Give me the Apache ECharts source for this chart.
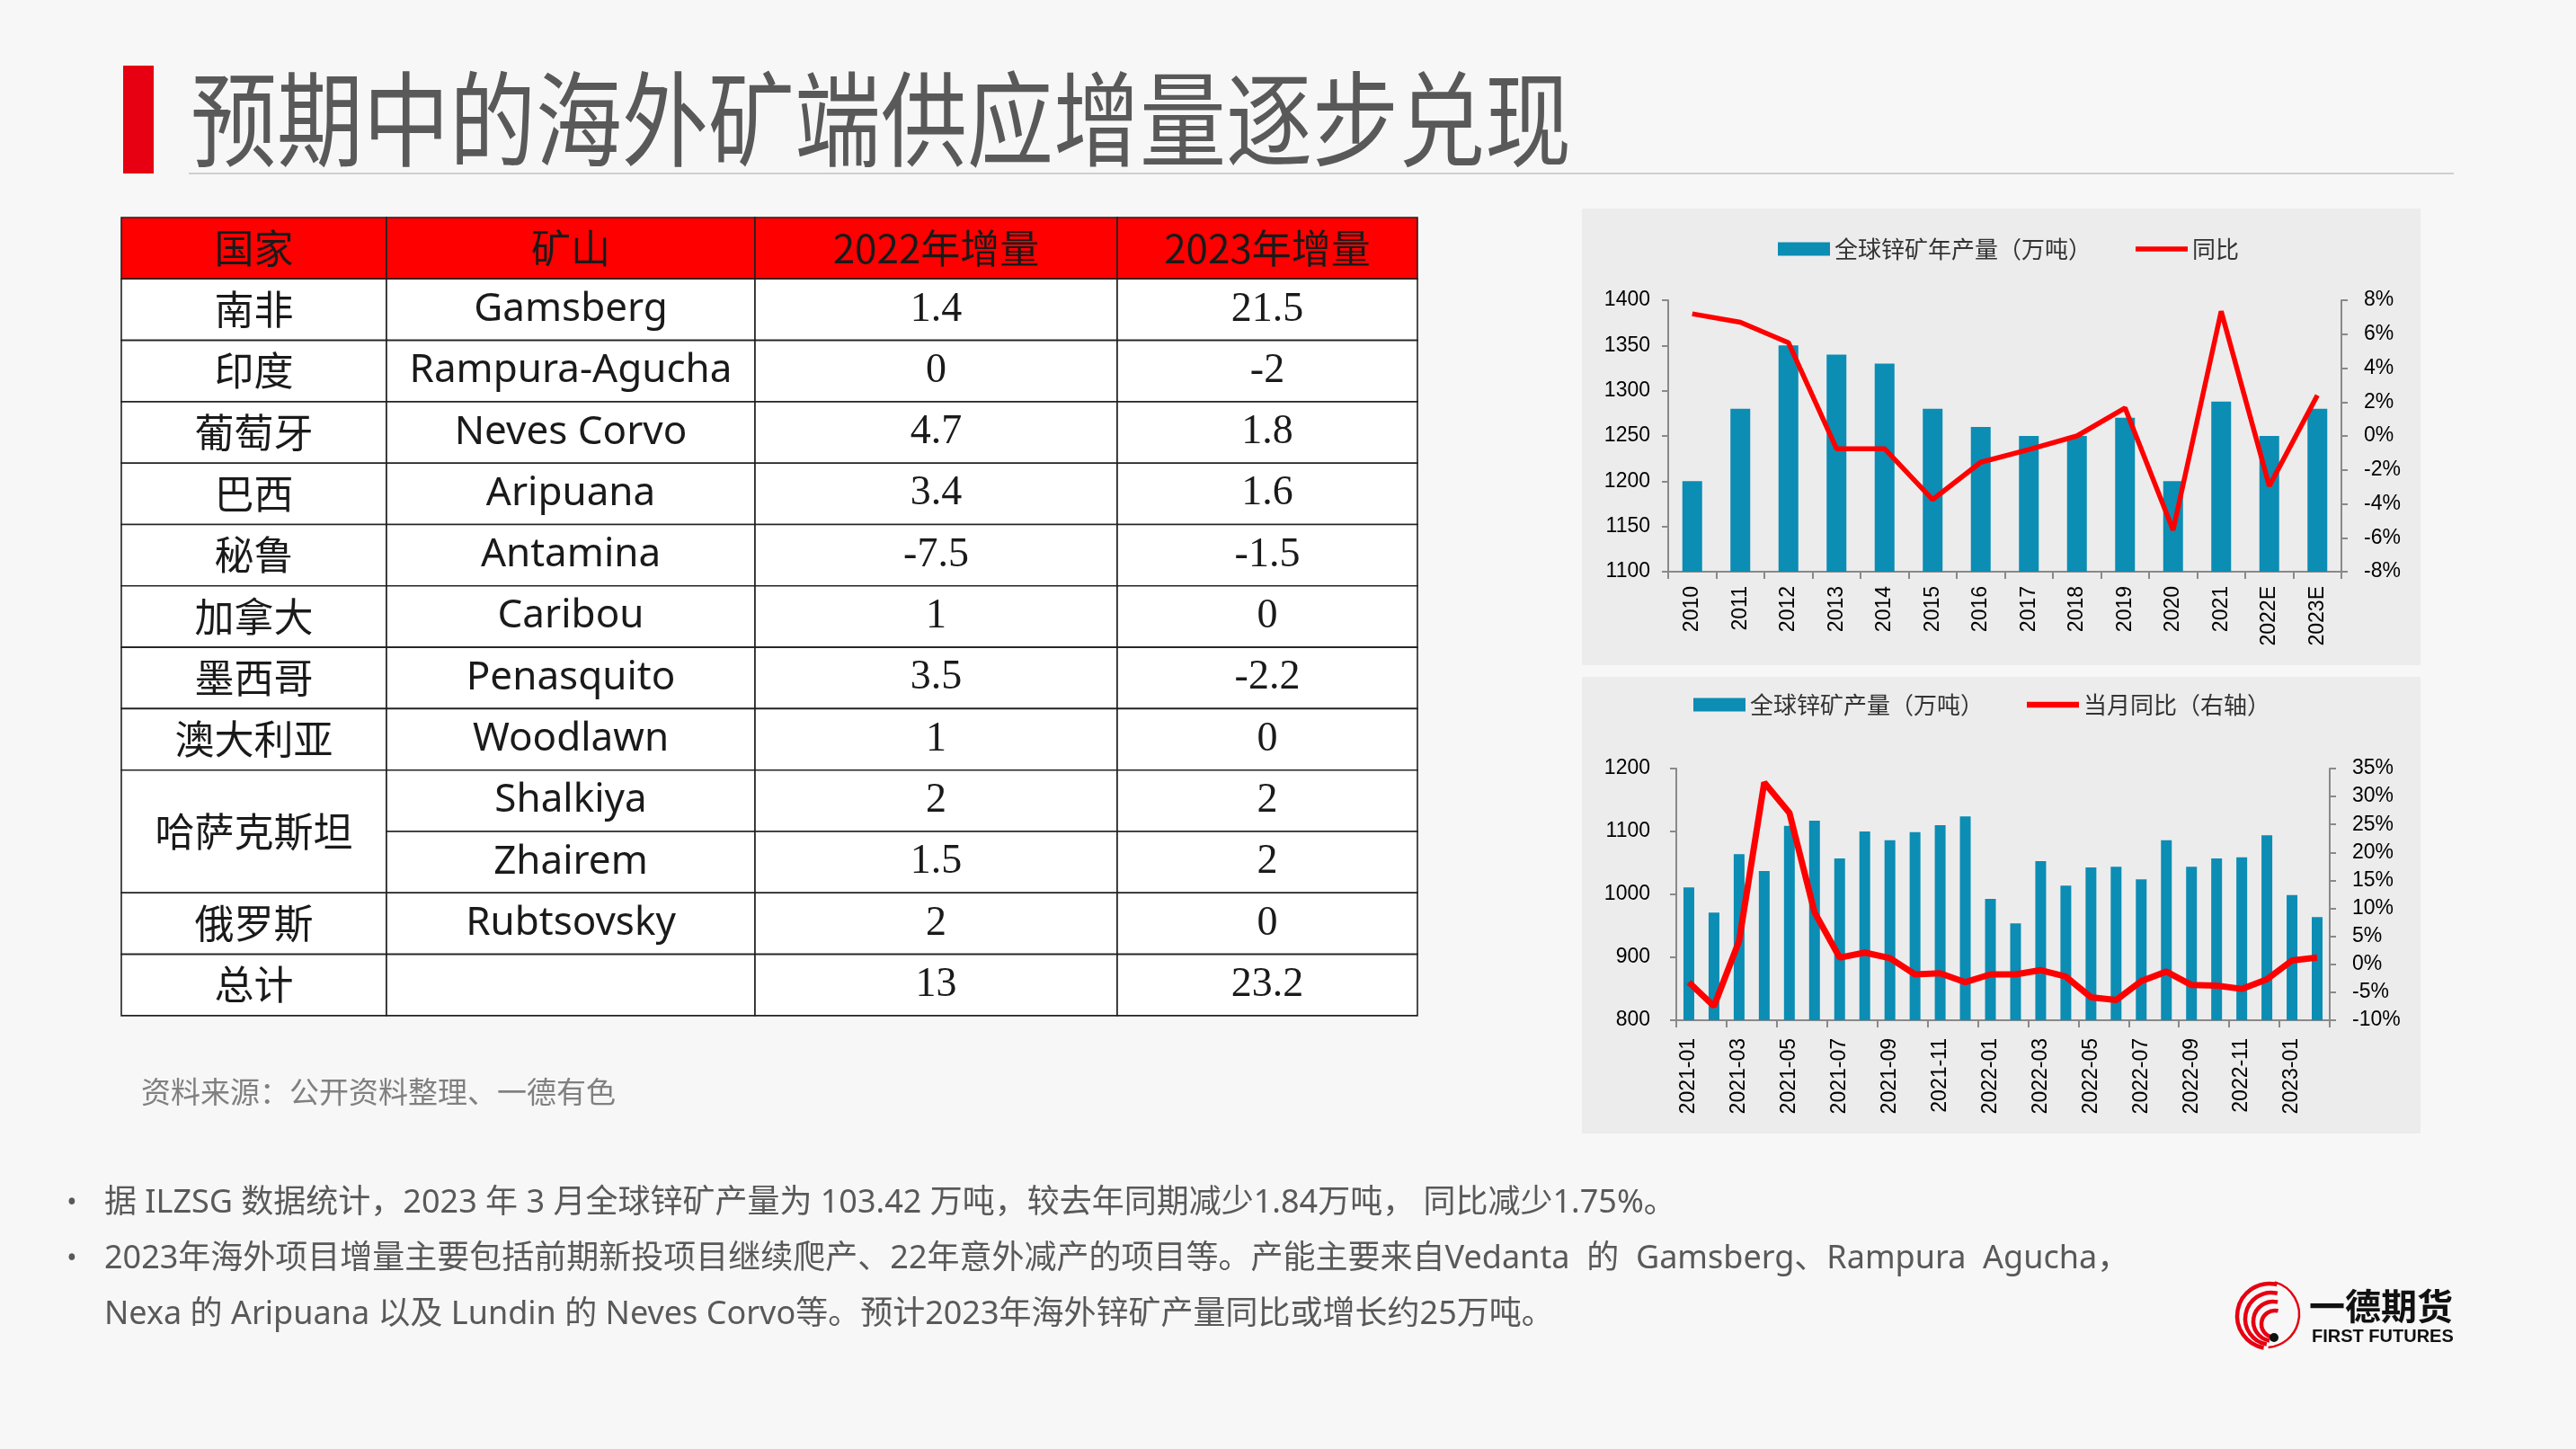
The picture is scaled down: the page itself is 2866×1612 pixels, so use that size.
<!DOCTYPE html>
<html><head><meta charset="utf-8">
<script src="https://cdn.jsdelivr.net/npm/echarts@6/dist/echarts.min.js"></script>
<style>html,body{margin:0;padding:0;background:#f7f7f7}#c{width:2866px;height:1612px}</style>
</head><body><div id="c"></div>
<script>
// ---------------- data ----------------
const slideTitle = '预期中的海外矿端供应增量逐步兑现';
const tableHeader = ['国家', '矿山', '2022年增量', '2023年增量'];
const countries = ['南非', '印度', '葡萄牙', '巴西', '秘鲁', '加拿大', '墨西哥', '澳大利亚', '哈萨克斯坦', '哈萨克斯坦', '俄罗斯', '总计'];
const mines = ['Gamsberg', 'Rampura-Agucha', 'Neves Corvo', 'Aripuana', 'Antamina', 'Caribou', 'Penasquito', 'Woodlawn', 'Shalkiya', 'Zhairem', 'Rubtsovsky', ''];
const inc2022 = ['1.4', '0', '4.7', '3.4', '-7.5', '1', '3.5', '1', '2', '1.5', '2', '13'];
const inc2023 = ['21.5', '-2', '1.8', '1.6', '-1.5', '0', '-2.2', '0', '2', '2', '0', '23.2'];
const sourceNote = '资料来源：公开资料整理、一德有色';
const paragraphLines = [
  '据 ILZSG 数据统计，2023 年 3 月全球锌矿产量为 103.42 万吨，较去年同期减少1.84万吨， 同比减少1.75%。',
  '2023年海外项目增量主要包括前期新投项目继续爬产、22年意外减产的项目等。产能主要来自Vedanta  的  Gamsberg、Rampura  Agucha，',
  'Nexa 的 Aripuana 以及 Lundin 的 Neves Corvo等。预计2023年海外锌矿产量同比或增长约25万吨。'
];
const paragraphBullets = [true, true, false];
const logoName = '一德期货';
const logoEn = 'FIRST FUTURES';

const annualNames = ['全球锌矿年产量（万吨）', '同比'];
const annualYears = ['2010', '2011', '2012', '2013', '2014', '2015', '2016', '2017', '2018', '2019', '2020', '2021', '2022E', '2023E'];
const annualOutput = [1200, 1280, 1350, 1340, 1330, 1280, 1260, 1250, 1250, 1270, 1200, 1288, 1250, 1280];
const annualYoY = [7.2, 6.7, 5.5, -0.75, -0.75, -3.75, -1.55, -0.8, 0, 1.65, -5.55, 7.35, -2.95, 2.4];

const monthlyNames = ['全球锌矿产量（万吨）', '当月同比（右轴）'];
const months = ['2021-01', '2021-02', '2021-03', '2021-04', '2021-05', '2021-06', '2021-07', '2021-08', '2021-09', '2021-10', '2021-11', '2021-12',
  '2022-01', '2022-02', '2022-03', '2022-04', '2022-05', '2022-06', '2022-07', '2022-08', '2022-09', '2022-10', '2022-11', '2022-12',
  '2023-01', '2023-02'];
const monthlyOutput = [1011, 971, 1064, 1037, 1109, 1117, 1057, 1100, 1086, 1099, 1110, 1124,
  993, 954, 1053, 1014, 1043, 1044, 1024, 1086, 1044, 1057, 1059, 1094, 999, 964];
const monthlyYoY = [-3.2, -7.5, 4.2, 32.5, 27.1, 9.3, 1.2, 2.1, 1.1, -1.8, -1.6, -3.2,
  -1.8, -1.8, -1.05, -2.2, -5.9, -6.4, -3.0, -1.3, -3.7, -3.8, -4.4, -2.7, 0.7, 1.2];

// ---------------- layout / style ----------------
const CJK = '"Noto Sans CJK SC", sans-serif';
const MIX = '"Noto Sans", "Noto Sans CJK SC", sans-serif';
const SERIF = '"Liberation Serif", serif';
const NUM = '"Liberation Sans", Arial, sans-serif';
const barColor = '#0b8db4';
const lineColor = '#ff0000';
const axisColor = '#898989';

const g = [];
// panels
g.push({type: 'rect', z: -10, shape: {x: 1760, y: 232, width: 933, height: 508}, style: {fill: '#edecec'}});
g.push({type: 'rect', z: -10, shape: {x: 1760, y: 753, width: 933, height: 508}, style: {fill: '#edecec'}});
// title
g.push({type: 'rect', shape: {x: 137, y: 73, width: 34, height: 120}, style: {fill: '#e60012'}});
g.push({type: 'text', x: 212, y: 132, scaleY: 1.2, style: {text: slideTitle, font: '96px ' + CJK, fill: '#595959', textAlign: 'left', textVerticalAlign: 'middle'}});
g.push({type: 'line', shape: {x1: 210, y1: 193, x2: 2730, y2: 193}, style: {stroke: '#cfcfcf', lineWidth: 2}});

// table
const colX = [135, 430, 840, 1243, 1577];
const tTop = 242, rowH = 68.3;
const bStroke = '#222', bW = 1.6;
function cellText(txt, cx, cy, font) {
  g.push({type: 'text', x: cx, y: cy, style: {text: txt, font: font, fill: '#1a1a1a', textAlign: 'center', textVerticalAlign: 'middle'}});
}
for (let c = 0; c < 4; c++) {
  g.push({type: 'rect', shape: {x: colX[c], y: tTop, width: colX[c + 1] - colX[c], height: rowH}, style: {fill: '#ff0000', stroke: bStroke, lineWidth: bW}});
  cellText(tableHeader[c], (colX[c] + colX[c + 1]) / 2, tTop + rowH / 2, '44px ' + CJK);
}
for (let r = 0; r < countries.length; r++) {
  const y = tTop + (r + 1) * rowH;
  if (r === 0 || countries[r] !== countries[r - 1]) {
    let span = 1;
    while (r + span < countries.length && countries[r + span] === countries[r]) span++;
    g.push({type: 'rect', shape: {x: colX[0], y: y, width: colX[1] - colX[0], height: rowH * span}, style: {fill: '#ffffff', stroke: bStroke, lineWidth: bW}});
    cellText(countries[r], (colX[0] + colX[1]) / 2, y + rowH * span / 2, '44px ' + CJK);
  }
  const vals = [mines[r], inc2022[r], inc2023[r]];
  for (let c = 1; c < 4; c++) {
    g.push({type: 'rect', shape: {x: colX[c], y: y, width: colX[c + 1] - colX[c], height: rowH}, style: {fill: '#ffffff', stroke: bStroke, lineWidth: bW}});
    cellText(vals[c - 1], (colX[c] + colX[c + 1]) / 2, y + rowH / 2, c === 1 ? '44px ' + MIX : '46px ' + SERIF);
  }
}
// source
g.push({type: 'text', x: 157, y: 1214, style: {text: sourceNote, font: '33px ' + CJK, fill: '#808080', textAlign: 'left', textVerticalAlign: 'middle'}});
// paragraph
const paraY = [1339, 1401, 1463];
paragraphLines.forEach((t, i) => {
  if (paragraphBullets[i]) g.push({type: 'text', x: 80, y: paraY[i], style: {text: '•', font: '30px ' + MIX, fill: '#595959', textAlign: 'center', textVerticalAlign: 'middle'}});
  g.push({type: 'text', x: 116, y: paraY[i], style: {text: t, font: '36px ' + MIX, fill: '#595959', textAlign: 'left', textVerticalAlign: 'middle'}});
});
// logo
const lcx = 2521, lcy = 1462;
g.push({type: 'arc', shape: {cx: lcx, cy: lcy, r: 37, startAngle: -1.3, endAngle: 1.5, clockwise: true}, style: {stroke: '#e60012', lineWidth: 2.5, fill: null}});
[36, 29, 22, 15].forEach((rr, i) => {
  g.push({type: 'arc', shape: {cx: lcx + 4 + i * 2, cy: lcy + 2 + i * 3, r: rr, startAngle: 1.75, endAngle: 4.95, clockwise: true}, style: {stroke: '#e60012', lineWidth: 4.5, fill: null}});
});
g.push({type: 'circle', shape: {cx: 2530, cy: 1488, r: 5}, style: {fill: '#111'}});
g.push({type: 'text', x: 2569, y: 1453, style: {text: logoName, font: 'bold 40px ' + CJK, fill: '#111', textAlign: 'left', textVerticalAlign: 'middle'}});
g.push({type: 'text', x: 2572, y: 1487, style: {text: logoEn, font: 'bold 20px ' + NUM, fill: '#111', textAlign: 'left', textVerticalAlign: 'middle'}});

// ---------------- chart ----------------
const axLine = {show: true, onZero: false, lineStyle: {color: axisColor, width: 2}};
const axTick = {show: true, length: 7, lineStyle: {color: axisColor, width: 2}};
const yLbl = {color: '#000', fontFamily: NUM, fontSize: 23};
const legendText = {fontSize: 26, color: '#333', fontFamily: CJK};
function lg(left, top, name, h) {
  return {left: left, top: top, itemWidth: 58, itemHeight: h, textStyle: legendText, data: [{name: name, icon: 'rect'}]};
}

const option = {
  backgroundColor: '#f7f7f7',
  animation: false,
  graphic: {elements: g},
  grid: [
    {left: 1856, top: 334, right: 261, bottom: 976},
    {left: 1865, top: 855, right: 274, bottom: 477}
  ],
  legend: [
    lg(1973, 259, annualNames[0], 15),
    lg(2371, 259, annualNames[1], 5.5),
    lg(1879, 766, monthlyNames[0], 15),
    lg(2250, 766, monthlyNames[1], 6.5)
  ],
  xAxis: [
    {type: 'category', gridIndex: 0, data: annualYears, axisLine: axLine,
      axisTick: {show: true, length: 8, interval: 0, lineStyle: {color: axisColor, width: 2}},
      axisLabel: {interval: 0, rotate: 90, margin: 16, color: '#000', fontFamily: NUM, fontSize: 23}},
    {type: 'category', gridIndex: 1, data: months, axisLine: axLine,
      axisTick: {show: true, length: 8, interval: 1, lineStyle: {color: axisColor, width: 2}},
      axisLabel: {interval: 1, rotate: 90, margin: 20, color: '#000', fontFamily: NUM, fontSize: 23}}
  ],
  yAxis: [
    {type: 'value', gridIndex: 0, min: 1100, max: 1400, interval: 50, axisLine: axLine, axisTick: axTick, splitLine: {show: false},
      axisLabel: Object.assign({margin: 20, formatter: v => String(v)}, yLbl)},
    {type: 'value', gridIndex: 0, position: 'right', min: -8, max: 8, interval: 2, axisLine: axLine, axisTick: axTick, splitLine: {show: false},
      axisLabel: Object.assign({margin: 25, formatter: v => v + '%'}, yLbl)},
    {type: 'value', gridIndex: 1, min: 800, max: 1200, interval: 100, axisLine: axLine, axisTick: axTick, splitLine: {show: false},
      axisLabel: Object.assign({margin: 29, formatter: v => String(v)}, yLbl)},
    {type: 'value', gridIndex: 1, position: 'right', min: -10, max: 35, interval: 5, axisLine: axLine, axisTick: axTick, splitLine: {show: false},
      axisLabel: Object.assign({margin: 25, formatter: v => v + '%'}, yLbl)}
  ],
  series: [
    {name: annualNames[0], type: 'bar', xAxisIndex: 0, yAxisIndex: 0, data: annualOutput, barWidth: 22, itemStyle: {color: barColor}},
    {name: annualNames[1], type: 'line', xAxisIndex: 0, yAxisIndex: 1, data: annualYoY, symbol: 'none', z: 5,
      lineStyle: {color: lineColor, width: 5.5}, itemStyle: {color: lineColor}},
    {name: monthlyNames[0], type: 'bar', xAxisIndex: 1, yAxisIndex: 2, data: monthlyOutput, barWidth: 12, itemStyle: {color: barColor}},
    {name: monthlyNames[1], type: 'line', xAxisIndex: 1, yAxisIndex: 3, data: monthlyYoY, symbol: 'none', z: 5,
      lineStyle: {color: lineColor, width: 7}, itemStyle: {color: lineColor}}
  ]
};
const chart = echarts.init(document.getElementById('c'), null, {renderer: 'canvas'});
chart.setOption(option);
</script>
</body></html>
